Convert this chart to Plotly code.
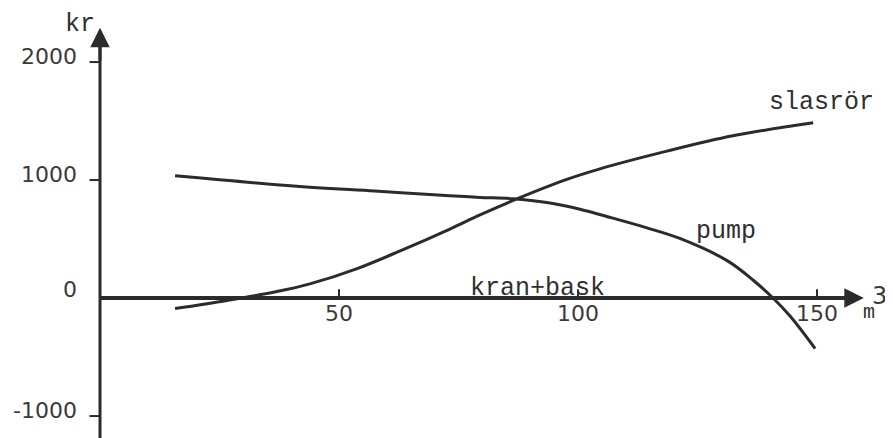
import plotly.graph_objects as go

# ---- data ----
x_pump = [15.7, 41.8, 57.5, 73.2, 79.5, 86.4, 93.5, 100.4, 107.3, 114.4, 121.3, 131.2, 136.6, 140.8, 144.4, 149.6]
y_pump = [1036, 946, 907, 867, 853, 842, 810, 753, 677, 595, 505, 317, 153, 0, -155, -428]

x_slasror = [15.7, 26.6, 37.0, 43.9, 53.8, 62.8, 73.2, 79.5, 87.2, 96.9, 104.6, 118.6, 132.4, 149.2]
y_slasror = [-89, -20, 55, 120, 250, 400, 585, 705, 840, 995, 1095, 1245, 1375, 1485]

x_kran = [0, 158]
y_kran = [0, 0]

y_tick_vals = [2000, 1000, 0, -1000]
y_tick_text = ["2000", "1000", "0", "-1000"]
x_tick_vals = [50, 100, 150]
x_tick_text = ["50", "100", "150"]

INK = "#2b2b2b"
NUM_FONT = dict(family="DejaVu Sans", size=22, color="#3a3a3a")
TYPE_FONT = dict(family="Liberation Mono", size=25, color="#2f2f2f")

fig = go.Figure()

line_style = dict(color=INK, width=3, shape="spline", smoothing=1.0)
fig.add_trace(go.Scatter(x=x_pump, y=y_pump, mode="lines", line=line_style, name="pump"))
fig.add_trace(go.Scatter(x=x_slasror, y=y_slasror, mode="lines", line=line_style, name="slasrör"))
fig.add_trace(go.Scatter(x=x_kran, y=y_kran, mode="lines", line=dict(color=INK, width=4), name="kran+bask"))

# y axis line
fig.add_shape(type="line", x0=0, x1=0, y0=-1300, y1=2260, line=dict(color=INK, width=3))

# arrow heads
fig.add_annotation(x=159.8, y=0, ax=150, ay=0, axref="x", ayref="y", xref="x", yref="y",
                   text="", showarrow=True, arrowhead=2, arrowsize=1.3, arrowwidth=3, arrowcolor=INK)
fig.add_annotation(x=0, y=2290, ax=0, ay=2000, axref="x", ayref="y", xref="x", yref="y",
                   text="", showarrow=True, arrowhead=2, arrowsize=1.3, arrowwidth=3, arrowcolor=INK)

# y ticks + labels
for v, t in zip(y_tick_vals, y_tick_text):
    if v != 0:
        fig.add_shape(type="line", x0=-2.2, x1=0, y0=v, y1=v, line=dict(color=INK, width=2))
    fig.add_annotation(x=-4.6, y=v, text=t, showarrow=False, xanchor="right", yanchor="middle",
                       yshift=6 if v != 0 else 9, font=NUM_FONT, borderpad=0)

# x ticks + labels
for v, t in zip(x_tick_vals, x_tick_text):
    fig.add_shape(type="line", x0=v, x1=v, y0=0, y1=75, line=dict(color=INK, width=2))
    fig.add_annotation(x=v, y=0, text=t, showarrow=False, xanchor="center", yanchor="middle",
                       yshift=-15, font=NUM_FONT)

# axis titles and curve labels
fig.add_annotation(x=-4.2, y=2320, text="kr", showarrow=False, font=TYPE_FONT, borderpad=0)
fig.add_annotation(x=160.9, y=0, text="m", showarrow=False, xanchor="center", yanchor="middle",
                   yshift=-14, font=dict(family="Liberation Mono", size=20, color="#2f2f2f"),
                   borderpad=0)
fig.add_annotation(x=163.1, y=0, text="3", showarrow=False, xanchor="center", yanchor="middle",
                   yshift=2, font=dict(family="DejaVu Sans", size=24, color="#3a3a3a"), borderpad=0)
fig.add_annotation(x=151, y=1661, text="slasrör", showarrow=False, font=TYPE_FONT)
fig.add_annotation(x=131, y=568, text="pump", showarrow=False, font=TYPE_FONT)
fig.add_annotation(x=91.6, y=0, text="kran+bask", showarrow=False, yanchor="bottom", yshift=-7,
                   font=TYPE_FONT)

# the page body adds an 8px margin, so the figure is 8px smaller and the ranges start 8px in
fig.update_layout(
    width=885, height=430,
    margin=dict(l=0, r=0, t=0, b=0),
    paper_bgcolor="#ffffff", plot_bgcolor="#ffffff",
    showlegend=False,
    xaxis=dict(range=[-19.25, 165.9], visible=False, fixedrange=True),
    yaxis=dict(range=[-1186, 2458], visible=False, fixedrange=True),
)

fig.write_html("out.html")
